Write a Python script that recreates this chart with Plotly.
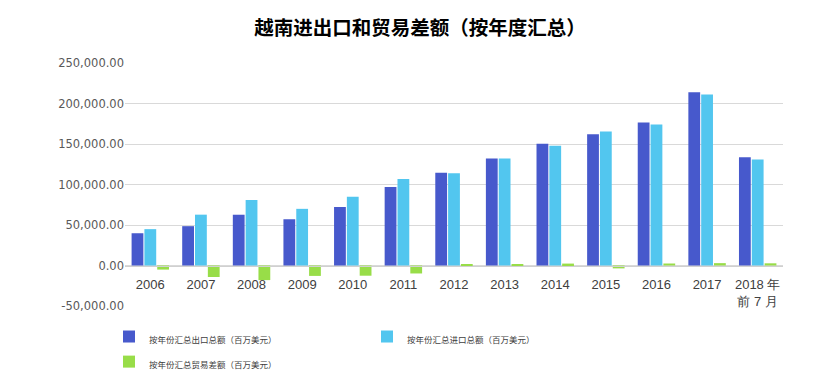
import plotly.graph_objects as go

years = ["2006", "2007", "2008", "2009", "2010", "2011", "2012", "2013",
         "2014", "2015", "2016", "2017", "2018 年<br>前 7 月"]
exports = [39826, 48561, 62685, 57096, 72237, 96906, 114529, 132033,
           150217, 162017, 176581, 214019, 133700]
imports = [44891, 62764, 80714, 69949, 84839, 106750, 113780, 132032,
           147849, 165570, 174111, 211104, 131000]
balance = [-5065, -14203, -18029, -12853, -12602, -9844, 749, 863,
           2368, -3554, 2470, 2915, 2700]

names = ["按年份汇总出口总额（百万美元）", "按年份汇总进口总额（百万美元）",
         "按年份汇总贸易差额（百万美元）"]
y_tickvals = [-50000, 0, 50000, 100000, 150000, 200000, 250000]
y_ticktext = ["-50,000.00", "0.00", "50,000.00", "100,000.00",
              "150,000.00", "200,000.00", "250,000.00"]

colors = ["#4759cc", "#52c6ef", "#98dd48"]

# page has an 8px body margin, so the figure is 8px smaller on each axis
W, H = 824, 368

fig = go.Figure()
for name, vals, c in zip(names, [exports, imports, balance], colors):
    fig.add_trace(go.Bar(x=years, y=vals,
                         name='<span style="font-size:8.5px">' + name + '</span>',
                         marker_color=c, marker_line_width=0))

fig.update_layout(
    width=W, height=H,
    margin=dict(l=117, r=49, t=55, b=70, autoexpand=False),
    paper_bgcolor="white", plot_bgcolor="white",
    title=dict(text="<b>越南进出口和贸易差额（按年度汇总）</b>", x=0.5, xanchor="center",
               y=1 - 20 / H, yanchor="middle",
               font=dict(family="Noto Sans CJK SC", size=19.5, color="#000000")),
    barmode="group", bargap=0.24, bargroupgap=0.08,
    showlegend=True,
    legend=dict(orientation="h", x=101 / W, xref="container", xanchor="left",
                y=0.155, yref="container", yanchor="top",
                entrywidth=213, entrywidthmode="pixels",
                font=dict(family="Noto Sans CJK SC", size=17, color="#404040"),
                itemwidth=30, bgcolor="rgba(0,0,0,0)"),
    font=dict(family="DejaVu Sans", color="#595959"),
)
fig.update_yaxes(range=[-50000, 250000], tickvals=y_tickvals, ticktext=y_ticktext,
                 showgrid=True, gridcolor="#d9d9d9", gridwidth=1,
                 zeroline=False, showline=False, ticks="",
                 tickfont=dict(family="DejaVu Sans", size=11.5, color="#595959"),
                 domain=[0, 1])
fig.update_xaxes(type="category", anchor="free", position=1/6,
                 showline=True, linecolor="#d0d0d0", linewidth=1,
                 ticks="", showgrid=False,
                 ticklabelstandoff=7,
                 tickfont=dict(family="Liberation Sans", size=13, color="#404040"))

fig.write_html("out.html")
